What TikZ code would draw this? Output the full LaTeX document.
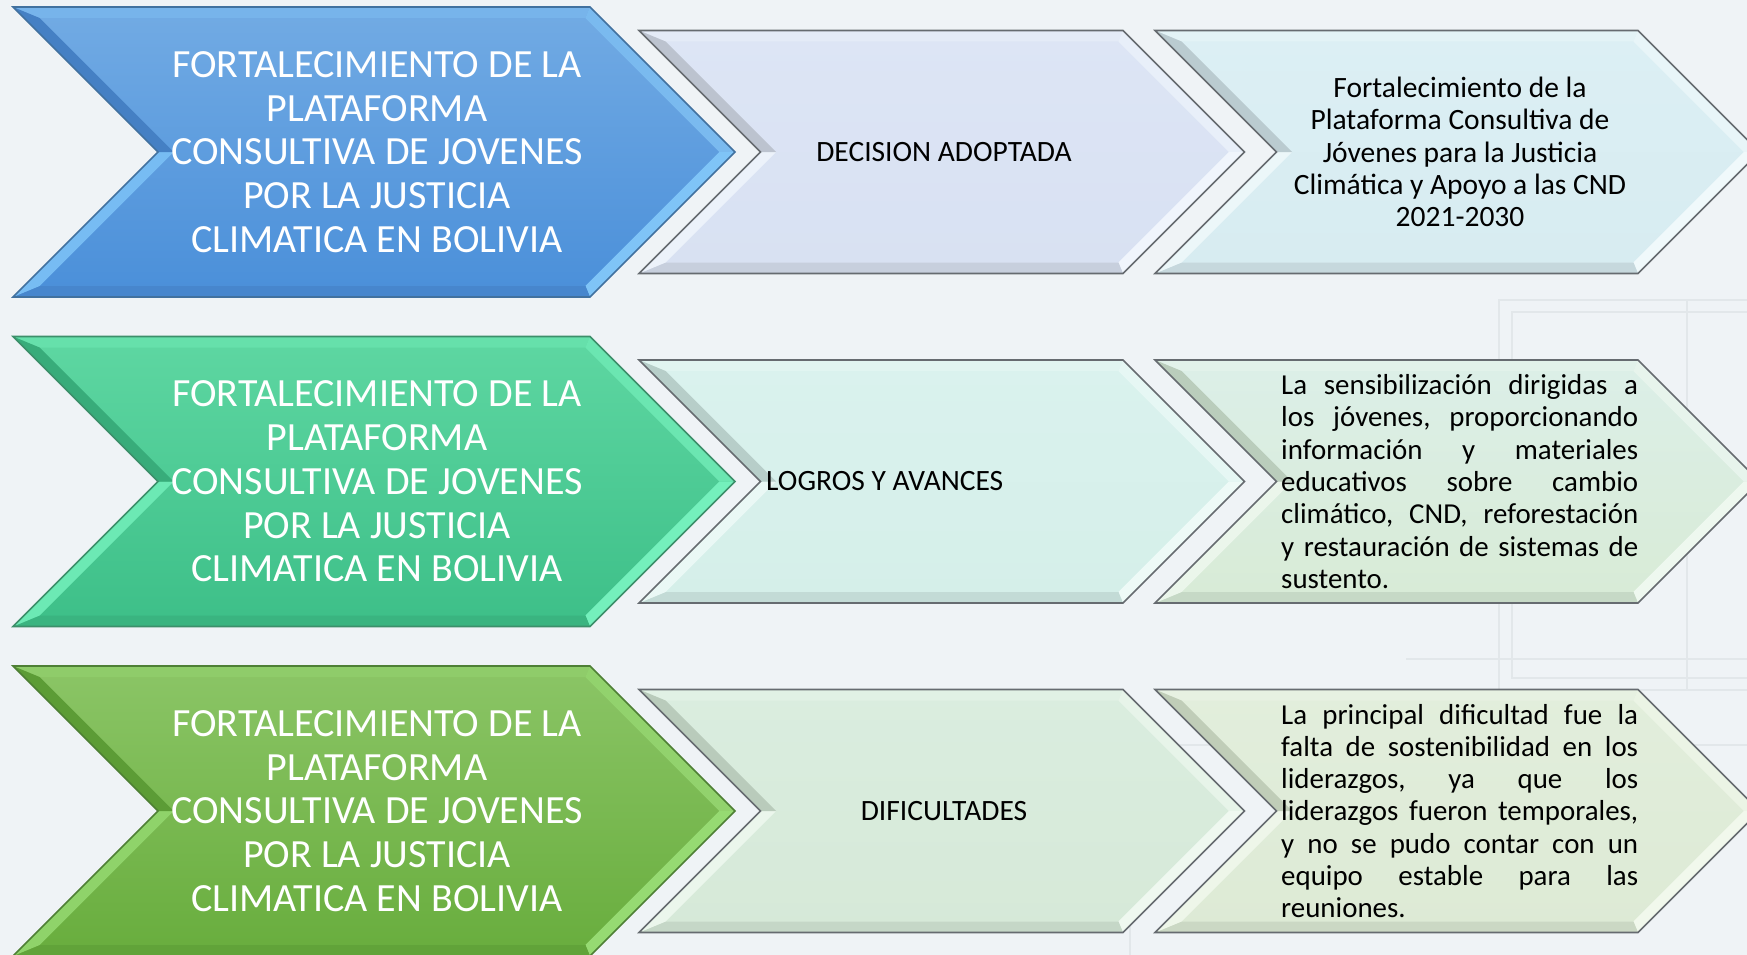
\documentclass[tikz,border=0pt]{standalone}
\usepackage{fontspec}
\setmainfont{Carlito}
\definecolor{bg}{HTML}{EFF3F6}
\definecolor{wm}{HTML}{E2E7EA}
% big chevrons
\definecolor{bluT}{HTML}{72ABE4}\definecolor{bluB}{HTML}{4A8FD9}\definecolor{bluH}{HTML}{7FC4F7}\definecolor{bluS}{HTML}{4580C4}\definecolor{bluO}{HTML}{41719F}
\definecolor{teaT}{HTML}{5ED7A2}\definecolor{teaB}{HTML}{3DBF88}\definecolor{teaH}{HTML}{74F0BC}\definecolor{teaS}{HTML}{38AC7A}\definecolor{teaO}{HTML}{3C8F6A}
\definecolor{grnT}{HTML}{8BC566}\definecolor{grnB}{HTML}{68AD3D}\definecolor{grnH}{HTML}{96DA72}\definecolor{grnS}{HTML}{5C9C36}\definecolor{grnO}{HTML}{4E7F35}
% light chevrons
\definecolor{m1T}{HTML}{DDE5F5}\definecolor{m1B}{HTML}{D8E1F2}\definecolor{m1H}{HTML}{F0F5FC}\definecolor{m1S}{HTML}{BCC3CF}
\definecolor{r1T}{HTML}{DCEFF4}\definecolor{r1B}{HTML}{D7ECF1}\definecolor{r1H}{HTML}{F0F9FB}\definecolor{r1S}{HTML}{BACBD0}
\definecolor{m2T}{HTML}{DAF2EE}\definecolor{m2B}{HTML}{D5EFE9}\definecolor{m2H}{HTML}{EEFAF7}\definecolor{m2S}{HTML}{B7CEC9}
\definecolor{r2T}{HTML}{DCEFE8}\definecolor{r2B}{HTML}{D8EBD6}\definecolor{r2H}{HTML}{EEF8EF}\definecolor{r2S}{HTML}{BACDBC}
\definecolor{m3T}{HTML}{DAEDDF}\definecolor{m3B}{HTML}{D6E9D8}\definecolor{m3H}{HTML}{EFF8F0}\definecolor{m3S}{HTML}{B9CBBB}
\definecolor{r3T}{HTML}{E2EEDC}\definecolor{r3B}{HTML}{DDEAD5}\definecolor{r3H}{HTML}{F1F8EC}\definecolor{r3S}{HTML}{C0CDB8}
\definecolor{ltO}{HTML}{666B70}

% #1 x0, #2 ymid, #3 width (to top-right corner), #4 half height,
% #5 top col, #6 bottom col, #7 highlight, #8 shadow, #9 outline
\newcommand\Chev[9]{%
  \def\bv{11}%
  \coordinate (cA) at ({#1},{#2-#4});
  \coordinate (cB) at ({#1+#3},{#2-#4});
  \coordinate (cC) at ({#1+#3+#4},{#2});
  \coordinate (cD) at ({#1+#3},{#2+#4});
  \coordinate (cE) at ({#1},{#2+#4});
  \coordinate (cF) at ({#1+#4},{#2});
  \coordinate (iA) at ({#1+\bv*2.41421},{#2-#4+\bv});
  \coordinate (iB) at ({#1+#3-\bv*0.41421},{#2-#4+\bv});
  \coordinate (iC) at ({#1+#3+#4-\bv*1.41421},{#2});
  \coordinate (iD) at ({#1+#3-\bv*0.41421},{#2+#4-\bv});
  \coordinate (iE) at ({#1+\bv*2.41421},{#2+#4-\bv});
  \coordinate (iF) at ({#1+#4+\bv*1.41421},{#2});
  \shade[top color=#5,bottom color=#6] (cA)--(cB)--(cC)--(cD)--(cE)--(cF)--cycle;
  \fill[#7!35!#5] (cA)--(cB)--(iB)--(iA)--cycle;
  \fill[#7!60!#5] (cB)--(cC)--(iC)--(iB)--cycle;
  \fill[#7] (cC)--(cD)--(iD)--(iC)--cycle;
  \fill[#8!60!#6] (cD)--(cE)--(iE)--(iD)--cycle;
  \fill[#7!85!#6] (cE)--(cF)--(iF)--(iE)--cycle;
  \fill[#8] (cF)--(cA)--(iA)--(iF)--cycle;
  \draw[#9,line width=1.6,line join=miter] (cA)--(cB)--(cC)--(cD)--(cE)--(cF)--cycle;
}
% justified line: words separated by \hfill
\newcommand\jl[1]{\leavevmode\hbox to 357pt{#1}}

\tikzset{
  bigtxt/.style={text=white,align=center,inner sep=0pt,
    font=\fontsize{40}{43.8}\selectfont},
  midtxt/.style={text=black,inner sep=0pt,
    font=\fontsize{29.5}{32.3}\selectfont},
  ctrtxt/.style={text=black,align=center,inner sep=0pt,
    font=\fontsize{29.5}{32.3}\selectfont},
  justtxt/.style={text=black,align=left,inner sep=0pt,text width=357pt,
    font=\fontsize{28.9}{32.3}\selectfont},
  wmark/.style={draw=wm,line width=2.2}
}

\begin{document}
\begin{tikzpicture}[x=1pt,y=-1pt]
\useasboundingbox (0,0) rectangle (1747,955);
\clip (0,0) rectangle (1747,955);
\fill[bg] (0,0) rectangle (1747,955);

% faint watermark frames
\draw[wmark] (1499,300) rectangle (1790,690);
\draw[wmark] (1512,312) rectangle (1790,678);
\draw[wmark] (1130,745) rectangle (1790,990);
\draw[wmark] (1315,690) -- (1315,745);
\draw[wmark] (1687,300) -- (1687,690);
\draw[wmark] (1406,659) -- (1790,659);

% ---------- row 1 ----------
\Chev{13}{152}{577}{145}{bluT}{bluB}{bluH}{bluS}{bluO}
\Chev{639}{152}{484}{121.5}{m1T}{m1B}{m1H}{m1S}{ltO}
\Chev{1155}{152}{483}{121.5}{r1T}{r1B}{r1H}{r1S}{ltO}
\node[bigtxt] (t1) at (377,152) {FORTALECIMIENTO DE LA\\PLATAFORMA\\CONSULTIVA DE JOVENES\\POR LA JUSTICIA\\CLIMATICA EN BOLIVIA};
\node[midtxt] (m1) at (944,152) {DECISION ADOPTADA};
\node[ctrtxt] (r1) at (1460,152) {Fortalecimiento de la\\Plataforma Consultiva de\\Jóvenes para la Justicia\\Climática y Apoyo a las CND\\2021-2030};

% ---------- row 2 ----------
\Chev{13}{481.5}{577}{145}{teaT}{teaB}{teaH}{teaS}{teaO}
\Chev{639}{481.5}{484}{121.5}{m2T}{m2B}{m2H}{m2S}{ltO}
\Chev{1155}{481.5}{483}{121.5}{r2T}{r2B}{r2H}{r2S}{ltO}
\node[bigtxt] (t2) at (377,481.5) {FORTALECIMIENTO DE LA\\PLATAFORMA\\CONSULTIVA DE JOVENES\\POR LA JUSTICIA\\CLIMATICA EN BOLIVIA};
\node[midtxt,anchor=west] (m2) at (766,481.5) {LOGROS Y AVANCES};
\node[justtxt,anchor=west] (r2) at (1281,481.5) {%
\jl{La\hfill sensibilización\hfill dirigidas\hfill a}\\
\jl{los\hfill jóvenes,\hfill proporcionando}\\
\jl{información\hfill y\hfill materiales}\\
\jl{educativos\hfill sobre\hfill cambio}\\
\jl{climático,\hfill CND,\hfill reforestación}\\
\jl{y\hfill restauración\hfill de\hfill sistemas\hfill de}\\
sustento.};

% ---------- row 3 ----------
\Chev{13}{811}{577}{145}{grnT}{grnB}{grnH}{grnS}{grnO}
\Chev{639}{811}{484}{121.5}{m3T}{m3B}{m3H}{m3S}{ltO}
\Chev{1155}{811}{483}{121.5}{r3T}{r3B}{r3H}{r3S}{ltO}
\node[bigtxt] (t3) at (377,811) {FORTALECIMIENTO DE LA\\PLATAFORMA\\CONSULTIVA DE JOVENES\\POR LA JUSTICIA\\CLIMATICA EN BOLIVIA};
\node[midtxt] (m3) at (944,811) {DIFICULTADES};
\node[justtxt,anchor=west] (r3) at (1281,811) {%
\jl{La\hfill principal\hfill dificultad\hfill fue\hfill la}\\
\jl{falta\hfill de\hfill sostenibilidad\hfill en\hfill los}\\
\jl{liderazgos,\hfill ya\hfill que\hfill los}\\
\jl{liderazgos\hfill fueron\hfill temporales,}\\
\jl{y\hfill no\hfill se\hfill pudo\hfill contar\hfill con\hfill un}\\
\jl{equipo\hfill estable\hfill para\hfill las}\\
reuniones.};
\end{tikzpicture}
\end{document}
